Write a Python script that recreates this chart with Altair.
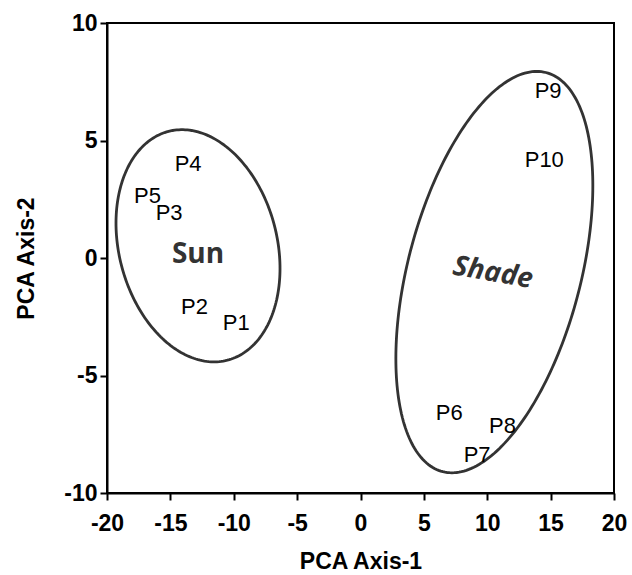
import altair as alt
import numpy as np
import pandas as pd

# Sample scores on the first two principal axes
samples = ["P1", "P2", "P3", "P4", "P5", "P6", "P7", "P8", "P9", "P10"]
axis1 = [-9.8, -13.1, -15.1, -13.6, -16.8, 7.0, 9.2, 11.2, 14.8, 14.5]
axis2 = [-2.75, -2.07, 1.9, 4.0, 2.65, -6.58, -8.37, -7.14, 7.12, 4.18]

# Group labels and their positions
groups = ["Sun", "Shade"]
group_x = [-12.82, 10.44]
group_y = [0.14, -0.65]
group_angle = [0, 10]
group_style = ["normal", "italic"]

# Group ellipses: centre, half-extents and phase of the tilt
ell_cx = [-12.82, 10.56]
ell_cy = [0.52, -0.60]
ell_rx = [6.47, 7.77]
ell_ry = [4.94, 8.54]
ell_phase = [np.degrees(np.arccos(-0.195)), np.degrees(np.arccos(0.431))]

points = pd.DataFrame({"x": axis1, "y": axis2, "label": samples})

rows = []
t = np.linspace(0, 2 * np.pi, 241)
for g, cx, cy, rx, ry, ph in zip(groups, ell_cx, ell_cy, ell_rx, ell_ry, ell_phase):
    phi = np.radians(ph)
    for i, tt in enumerate(t):
        rows.append({"group": g, "i": i,
                     "x": cx + rx * np.cos(tt),
                     "y": cy + ry * np.cos(tt - phi)})
ellipses = pd.DataFrame(rows)

xscale = alt.Scale(domain=[-20, 20], nice=False, zero=False)
yscale = alt.Scale(domain=[-10, 10], nice=False, zero=False)

# plain hyphen for negative tick labels
plain = "'' + datum.value"

xaxis = alt.Axis(values=list(range(-20, 21, 5)), title="PCA Axis-1",
                 grid=False, tickSize=7, labelPadding=12, labelExpr=plain,
                 labelFlush=False, labelOverlap=False,
                 titleY=75, titleBaseline="alphabetic")
yaxis = alt.Axis(values=list(range(-10, 11, 5)), title="PCA Axis-2",
                 grid=False, tickSize=7, labelPadding=3, labelExpr=plain,
                 labelFlush=False, labelOverlap=False,
                 titleX=-74, titleY=235, titleBaseline="alphabetic")

outline = alt.Chart(ellipses).mark_line(
    color="#333333", strokeWidth=2.8, clip=True
).encode(
    x=alt.X("x:Q", scale=xscale, axis=xaxis),
    y=alt.Y("y:Q", scale=yscale, axis=yaxis),
    detail="group:N",
    order="i:Q",
)

labels = alt.Chart(points).mark_text(
    font="Liberation Sans", fontSize=22, color="black",
    align="center", baseline="middle"
).encode(
    x=alt.X("x:Q", scale=xscale),
    y=alt.Y("y:Q", scale=yscale),
    text="label:N",
)

layers = [outline, labels]
for g, gx, gy, ang, sty in zip(groups, group_x, group_y, group_angle, group_style):
    gdf = pd.DataFrame({"x": [gx], "y": [gy], "label": [g]})
    layers.append(
        alt.Chart(gdf).mark_text(
            font="Open Sans", fontSize=28, fontWeight="bold", fontStyle=sty,
            color="#333333", align="center", baseline="middle", angle=ang
        ).encode(
            x=alt.X("x:Q", scale=xscale),
            y=alt.Y("y:Q", scale=yscale),
            text="label:N",
        )
    )

chart = alt.layer(*layers).properties(
    width=507, height=470,
    autosize=alt.AutoSizeParams(type="none"),
    padding={"left": 107, "top": 23, "right": 18, "bottom": 82},
).configure_view(
    stroke="black", strokeWidth=2
).configure_axis(
    domainColor="black", domainWidth=2, tickColor="black", tickWidth=2,
    labelFont="Liberation Sans", labelFontSize=23, labelFontWeight="bold",
    labelColor="black",
    titleFont="Liberation Sans", titleFontSize=23, titleFontWeight="bold",
    titleColor="black",
)

chart.save("out.html", embed_options={"renderer": "svg", "actions": False})
